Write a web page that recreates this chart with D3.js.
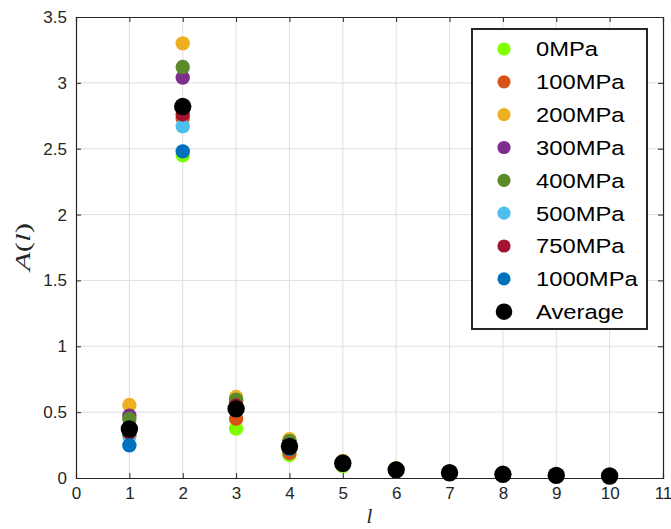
<!DOCTYPE html>
<html>
<head>
<meta charset="utf-8">
<script src="https://cdn.jsdelivr.net/npm/d3@7"></script>
<style>
  html, body { margin: 0; padding: 0; background: #fff; }
  svg { display: block; }
</style>
</head>
<body>
<svg id="chart" width="671" height="529"></svg>
<script>
// Order index l on the x axis
const orders = [1, 2, 3, 4, 5, 6, 7, 8, 9, 10];

// A(l) for each pressure level
const seriesNames = ["0MPa", "100MPa", "200MPa", "300MPa", "400MPa", "500MPa", "750MPa", "1000MPa", "Average"];
const seriesColors = ["#80ff00", "#d95319", "#edb120", "#7e2f8e", "#5b8a2a", "#4dbeee", "#a2142f", "#0072bd", "#000000"];

const s0MPa    = [0.320, 2.45, 0.375, 0.175, 0.090, 0.050, 0.033, 0.024, 0.017, 0.012];
const s100MPa  = [0.330, 2.73, 0.450, 0.190, 0.100, 0.055, 0.036, 0.026, 0.018, 0.013];
const s200MPa  = [0.554, 3.30, 0.615, 0.295, 0.130, 0.075, 0.045, 0.032, 0.023, 0.017];
const s300MPa  = [0.473, 3.04, 0.580, 0.270, 0.120, 0.070, 0.043, 0.030, 0.021, 0.016];
const s400MPa  = [0.448, 3.12, 0.595, 0.280, 0.125, 0.070, 0.043, 0.030, 0.021, 0.016];
const s500MPa  = [0.320, 2.67, 0.530, 0.250, 0.115, 0.065, 0.040, 0.028, 0.020, 0.015];
const s750MPa  = [0.345, 2.76, 0.550, 0.220, 0.110, 0.060, 0.039, 0.027, 0.019, 0.014];
const s1000MPa = [0.248, 2.48, 0.520, 0.220, 0.105, 0.060, 0.038, 0.027, 0.019, 0.014];
const sAverage = [0.372, 2.82, 0.525, 0.240, 0.112, 0.062, 0.040, 0.028, 0.020, 0.015];

const seriesValues = [s0MPa, s100MPa, s200MPa, s300MPa, s400MPa, s500MPa, s750MPa, s1000MPa, sAverage];

const xTicks = d3.range(0, 12, 1);
const yTicks = [0, 0.5, 1, 1.5, 2, 2.5, 3, 3.5];
const yTickLabels = ["0", "0.5", "1", "1.5", "2", "2.5", "3", "3.5"];

(function drawChart() {
  const svg = d3.select("#chart");
  const plotLeft = 76, plotRight = 663, plotTop = 17, plotBottom = 478;
  const axisColor = "#262626";
  const gridColor = "#dfdfdf";
  const tickFont = "'Liberation Sans', Arial, Helvetica, sans-serif";

  const x = d3.scaleLinear().domain([0, 11]).range([plotLeft, plotRight]);
  const y = d3.scaleLinear().domain([0, 3.5]).range([plotBottom, plotTop]);

  // grid
  const grid = svg.append("g");
  grid.selectAll("line.gx").data(xTicks.slice(1, -1)).join("line")
    .attr("x1", d => x(d)).attr("x2", d => x(d))
    .attr("y1", plotTop).attr("y2", plotBottom)
    .attr("stroke", gridColor).attr("stroke-width", 1);
  grid.selectAll("line.gy").data(yTicks.slice(1, -1)).join("line")
    .attr("y1", d => y(d)).attr("y2", d => y(d))
    .attr("x1", plotLeft).attr("x2", plotRight)
    .attr("stroke", gridColor).attr("stroke-width", 1);

  // axes with inward ticks
  const tickLen = 5;
  const xAxisB = d3.axisBottom(x).tickValues(xTicks).tickSize(-tickLen).tickPadding(9).tickFormat(d3.format("d"));
  const xAxisT = d3.axisTop(x).tickValues(xTicks).tickSize(-tickLen).tickFormat("");
  const yAxisL = d3.axisLeft(y).tickValues(yTicks).tickSize(-tickLen).tickPadding(9)
    .tickFormat((d, i) => yTickLabels[i]);
  const yAxisR = d3.axisRight(y).tickValues(yTicks).tickSize(-tickLen).tickFormat("");

  function styleAxis(g) {
    g.select(".domain").attr("stroke", axisColor).attr("stroke-width", 1.2);
    g.selectAll(".tick line").attr("stroke", axisColor);
    g.selectAll(".tick text").attr("fill", axisColor)
      .style("font-family", tickFont).style("font-size", "17px");
  }
  svg.append("g").attr("transform", `translate(0,${plotBottom})`).call(xAxisB).call(styleAxis);
  svg.append("g").attr("transform", `translate(0,${plotTop})`).call(xAxisT).call(styleAxis);
  svg.append("g").attr("transform", `translate(${plotLeft},0)`).call(yAxisL).call(styleAxis);
  svg.append("g").attr("transform", `translate(${plotRight},0)`).call(yAxisR).call(styleAxis);

  // points, later series on top
  const pts = svg.append("g");
  seriesValues.forEach((vals, si) => {
    const isAvg = seriesNames[si] === "Average";
    pts.append("g").selectAll("circle").data(vals).join("circle")
      .attr("cx", (d, i) => x(orders[i]))
      .attr("cy", d => y(d))
      .attr("r", isAvg ? 8.7 : 7.2)
      .attr("fill", seriesColors[si]);
  });

  // axis labels
  const serif = "'Liberation Serif', 'Times New Roman', 'DejaVu Serif', serif";
  const yl = svg.append("text")
    .attr("transform", "translate(30,247) rotate(-90)")
    .attr("text-anchor", "middle")
    .attr("fill", axisColor)
    .style("font-family", serif).style("font-size", "21px")
    .attr("textLength", 48).attr("lengthAdjust", "spacingAndGlyphs");
  yl.append("tspan").style("font-style", "italic").text("A");
  yl.append("tspan").text("(");
  yl.append("tspan").style("font-style", "italic").text("l");
  yl.append("tspan").text(")");

  svg.append("text")
    .attr("x", (plotLeft + plotRight) / 2).attr("y", 523)
    .attr("text-anchor", "middle")
    .attr("fill", axisColor)
    .style("font-family", serif).style("font-size", "21px").style("font-style", "italic")
    .text("l");

  // legend
  const lg = svg.append("g");
  lg.append("rect")
    .attr("x", 472).attr("y", 29).attr("width", 175).attr("height", 300)
    .attr("fill", "#fff").attr("stroke", axisColor).attr("stroke-width", 2);
  const rowY = d3.scaleLinear().domain([0, 8]).range([49, 311.7]);
  seriesNames.forEach((name, i) => {
    const isAvg = name === "Average";
    lg.append("circle")
      .attr("cx", 504).attr("cy", rowY(i))
      .attr("r", isAvg ? 8.3 : 6.6)
      .attr("fill", seriesColors[i]);
    lg.append("text")
      .attr("transform", `translate(536,${rowY(i) + 7.4}) scale(1.16,1)`)
      .attr("fill", "#000")
      .style("font-family", tickFont).style("font-size", "20.5px")
      .text(name);
  });
})();
</script>
</body>
</html>
